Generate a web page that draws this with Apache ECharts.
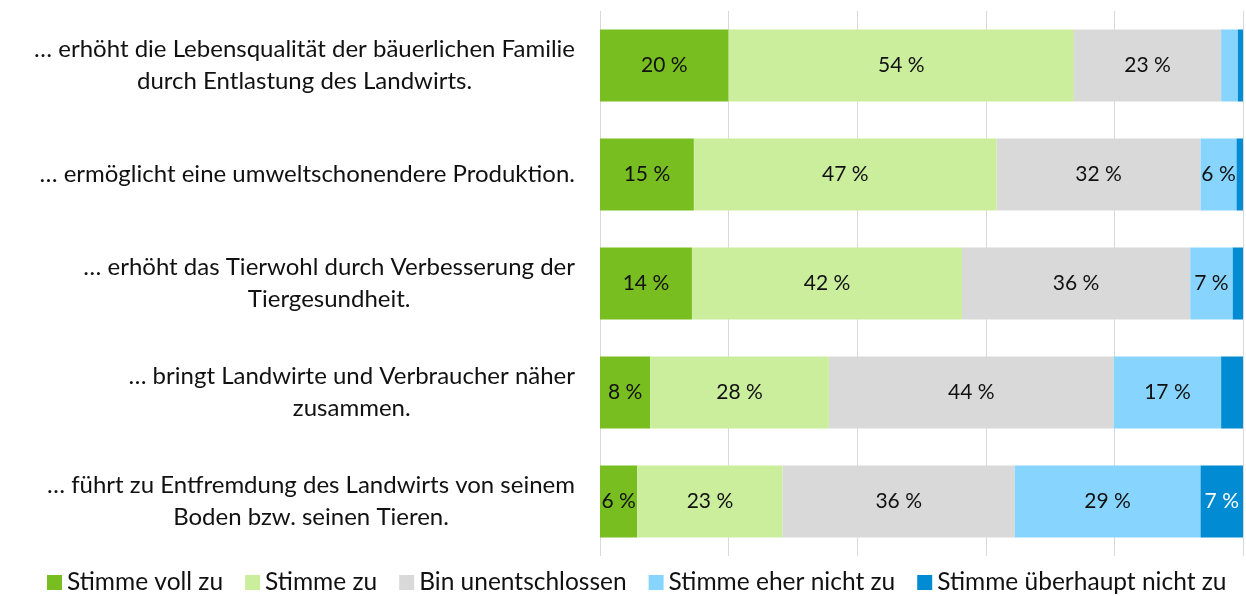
<!DOCTYPE html>
<html>
<head>
<meta charset="utf-8">
<script src="https://cdn.jsdelivr.net/npm/echarts@6/dist/echarts.min.js"></script>
<style>
  html, body { margin: 0; padding: 0; background: #fff; }
  #main { width: 1246px; height: 596px; }
</style>
</head>
<body>
<div id="main"></div>
<script>
// Aussagen (von oben nach unten)
var categories = [
    '… erhöht die Lebensqualität der bäuerlichen Familie\ndurch Entlastung des Landwirts.',
    '… ermöglicht eine umweltschonendere Produktion.',
    '… erhöht das Tierwohl durch Verbesserung der\nTiergesundheit.',
    '… bringt Landwirte und Verbraucher näher\nzusammen.',
    '… führt zu Entfremdung des Landwirts von seinem\nBoden bzw. seinen Tieren.'
];

var seriesNames = ['Stimme voll zu', 'Stimme zu', 'Bin unentschlossen', 'Stimme eher nicht zu', 'Stimme überhaupt nicht zu'];
var colors = ['#78BE20', '#CBEE9D', '#D9D9D9', '#87D5FF', '#008BD2'];

// Anteile in %
var volZu        = [20.0, 14.6, 14.3, 7.8, 5.8];
var zu           = [53.7, 47.1, 42.0, 27.8, 22.6];
var unentschl    = [22.9, 31.7, 35.5, 44.3, 36.1];
var eherNicht    = [2.6, 5.6, 6.6, 16.7, 28.9];
var ueberhNicht  = [0.8, 1.0, 1.6, 3.4, 6.6];

var values = [volZu, zu, unentschl, eherNicht, ueberhNicht];

var myChart = echarts.init(document.getElementById('main'));

var series = seriesNames.map(function (name, i) {
    return {
        name: name,
        type: 'bar',
        stack: 'total',
        barWidth: 72,
        data: values[i],
        itemStyle: { color: colors[i] },
        label: {
            show: true,
            position: 'inside',
            fontFamily: 'Lato',
            fontSize: 21,
            color: i === 4 ? '#fff' : '#111',
            formatter: function (p) {
                return p.value >= 5 ? Math.round(p.value) + ' %' : '';
            }
        }
    };
});

var option = {
    animation: false,
    color: colors,
    grid: {
        left: 600,
        right: 3,
        top: 11,
        height: 545
    },
    legend: {
        top: 570,
        left: 47,
        width: 1199,
        padding: 0,
        itemWidth: 15,
        itemHeight: 15,
        itemGap: 22,
        icon: 'rect',
        textStyle: { fontFamily: 'Lato', fontSize: 24.5, color: '#111' },
        data: seriesNames
    },
    xAxis: {
        type: 'value',
        min: 0,
        max: 100,
        interval: 20,
        axisLabel: { show: false },
        axisLine: { show: false },
        axisTick: { show: false },
        splitLine: { show: true, lineStyle: { color: '#d9d9d9', width: 1 } }
    },
    yAxis: {
        type: 'category',
        inverse: true,
        data: categories,
        axisLine: { show: false },
        axisTick: { show: false },
        axisLabel: {
            margin: 25,
            align: 'right',
            fontFamily: 'Lato',
            fontSize: 24,
            color: '#111',
            lineHeight: 32,
            formatter: function (v) {
                return v.split('\n').map(function (l) { return '{c|' + l + '}'; }).join('\n');
            },
            rich: {
                c: { align: 'center', fontFamily: 'Lato', fontSize: 24, color: '#111', lineHeight: 32 }
            }
        }
    },
    series: series
};

myChart.setOption(option);
</script>
</body>
</html>
